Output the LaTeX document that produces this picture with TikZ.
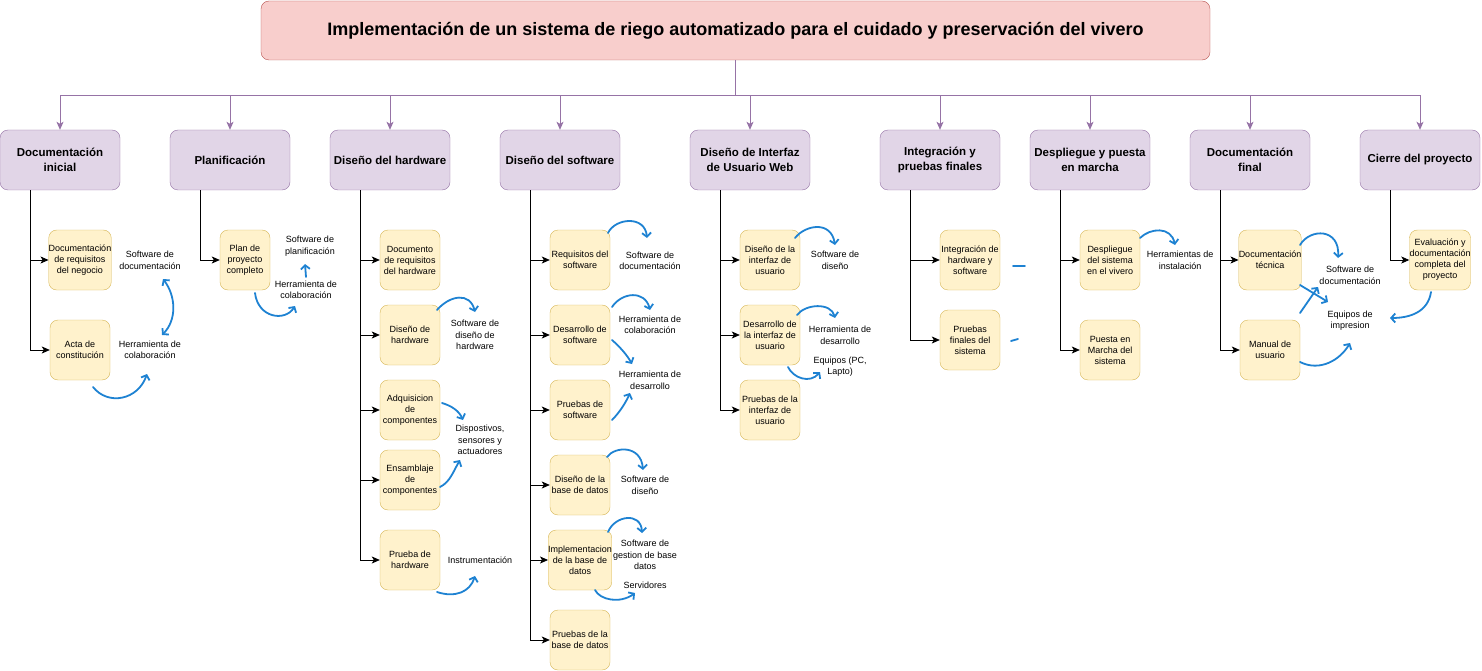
\documentclass[tikz,border=0pt]{standalone}
\usepackage{fontspec}
\setmainfont{Liberation Sans}
\usetikzlibrary{arrows.meta}
\definecolor{pfill}{HTML}{E1D5E7}
\definecolor{pstroke}{HTML}{9673A6}
\definecolor{yfill}{HTML}{FFF2CC}
\definecolor{ystroke}{HTML}{D6B656}
\definecolor{rfill}{HTML}{F8CECC}
\definecolor{rstroke}{HTML}{B85450}
\definecolor{skblue}{HTML}{1E82D2}
\begin{document}
\begin{tikzpicture}[x=1pt,y=-1pt,
  titlebox/.style={draw=rstroke, fill=rfill, rounded corners=8pt, minimum width=949pt, minimum height=59pt, inner sep=0pt, font=\fontsize{18}{21}\selectfont\bfseries},
  topbox/.style={draw=pstroke, fill=pfill, rounded corners=8pt, minimum width=120pt, minimum height=60pt, inner sep=0pt, align=center, font=\fontsize{11.5}{14.5}\selectfont\bfseries},
  childbox/.style={draw=ystroke, fill=yfill, rounded corners=8pt, minimum width=60pt, minimum height=60pt, inner sep=0pt, align=center, font=\fontsize{9}{11}\selectfont},
  lbl/.style={align=center, inner sep=0pt, font=\fontsize{9}{11.5}\selectfont},
  pur/.style={draw=pstroke, line width=0.9pt, -{Stealth[length=8pt,width=7pt,inset=2pt]}},
  blk/.style={draw=black, line width=0.8pt, -{Stealth[length=8pt,width=7pt,inset=2pt]}},
  sk/.style={draw=skblue, line width=1.8pt, line cap=round, -{Straight Barb[length=4pt,width=9pt]}},
  skd/.style={draw=skblue, line width=1.8pt, line cap=round, {Straight Barb[length=4pt,width=9pt]}-{Straight Barb[length=4pt,width=9pt]}},
  skn/.style={draw=skblue, line width=1.8pt, line cap=round}
]
\useasboundingbox (0,0) rectangle (1482,671);

% title
\node[titlebox] (title) at (735.5,30.5) {Implementación de un sistema de riego automatizado para el cuidado y preservación del vivero};

% top-level boxes
\node[topbox] (t1) at (60,160) {Documentación\\inicial};
\node[topbox] (t2) at (230,160) {Planificación};
\node[topbox] (t3) at (390,160) {Diseño del hardware};
\node[topbox] (t4) at (560,160) {Diseño del software};
\node[topbox] (t5) at (750,160) {Diseño de Interfaz\\de Usuario Web};
\node[topbox] (t6) at (940,160) {Integración y\\pruebas finales};
\node[topbox] (t7) at (1090,160) {Despliegue y puesta\\en marcha};
\node[topbox] (t8) at (1250,160) {Documentación\\final};
\node[topbox] (t9) at (1420,160) {Cierre del proyecto};

\foreach \t in {t1,t2,t3,t4,t5,t6,t7,t8,t9}{
  \draw[pur] (title.south) -- ++(0,35) -| (\t.north);
}

% column 1
\node[childbox] (c1a) at (80,260) {Documentación\\de requisitos\\del negocio};
\node[childbox] (c1b) at (80,350) {Acta de\\constitución};
% column 2
\node[childbox, minimum width=50pt] (c2a) at (245,260) {Plan de\\proyecto\\completo};
% column 3
\node[childbox] (c3a) at (410,260) {Documento\\de requisitos\\del hardware};
\node[childbox] (c3b) at (410,335) {Diseño de\\hardware};
\node[childbox] (c3c) at (410,410) {Adquisicion\\de\\componentes};
\node[childbox] (c3d) at (410,480) {Ensamblaje\\de\\componentes};
\node[childbox] (c3e) at (410,560) {Prueba de\\hardware};
% column 4
\node[childbox] (c4a) at (580,260) {Requisitos del\\software};
\node[childbox] (c4b) at (580,335) {Desarrollo de\\software};
\node[childbox] (c4c) at (580,410) {Pruebas de\\software};
\node[childbox] (c4d) at (580,485) {Diseño de la\\base de datos};
\node[childbox] (c4e) at (580,560) {Implementacion\\de la base de\\datos};
\node[childbox] (c4f) at (580,640) {Pruebas de la\\base de datos};
% column 5
\node[childbox] (c5a) at (770,260) {Diseño de la\\interfaz de\\usuario};
\node[childbox] (c5b) at (770,335) {Desarrollo de\\la interfaz de\\usuario};
\node[childbox] (c5c) at (770,410) {Pruebas de la\\interfaz de\\usuario};
% column 6
\node[childbox] (c6a) at (970,260) {Integración de\\hardware y\\software};
\node[childbox] (c6b) at (970,340) {Pruebas\\finales del\\sistema};
% column 7
\node[childbox] (c7a) at (1110,260) {Despliegue\\del sistema\\en el vivero};
\node[childbox] (c7b) at (1110,350) {Puesta en\\Marcha del\\sistema};
% column 8
\node[childbox] (c8a) at (1270,260) {Documentación\\técnica};
\node[childbox] (c8b) at (1270,350) {Manual de\\usuario};
% column 9
\node[childbox] (c9a) at (1440,260) {Evaluación y\\documentación\\completa del\\proyecto};

% tree connectors
\foreach \p/\c in {t1/c1a,t1/c1b,t2/c2a,t3/c3a,t3/c3b,t3/c3c,t3/c3d,t3/c3e,
  t4/c4a,t4/c4b,t4/c4c,t4/c4d,t4/c4e,t4/c4f,t5/c5a,t5/c5b,t5/c5c,
  t6/c6a,t6/c6b,t7/c7a,t7/c7b,t8/c8a,t8/c8b,t9/c9a}{
  \draw[blk] ([xshift=-30pt]\p.south) |- (\c.west);
}

% labels
\node[lbl] (l1a) at (150,260.5) {Software de\\documentación};
\node[lbl] (l1b) at (150,350) {Herramienta de\\colaboración};
\node[lbl] (l2a) at (310,246) {Software de\\planificación};
\node[lbl] (l2b) at (306,290) {Herramienta de\\colaboración};
\node[lbl] (l3b) at (475,335) {Software de\\diseño de\\hardware};
\node[lbl] (l3c) at (480,440) {Dispostivos,\\sensores y\\actuadores};
\node[lbl] (l3e) at (480,560) {Instrumentación};
\node[lbl] (l4a) at (650,261) {Software de\\documentación};
\node[lbl] (l4b) at (650,325) {Herramienta de\\colaboración};
\node[lbl] (l4c) at (650,380.5) {Herramienta de\\desarrollo};
\node[lbl] (l4d) at (645,485.5) {Software de\\diseño};
\node[lbl] (l4e) at (645,555) {Software de\\gestion de base\\datos};
\node[lbl] (l4g) at (645,585) {Servidores};
\node[lbl] (l5a) at (835,260.5) {Software de\\diseño};
\node[lbl] (l5b) at (840,335.5) {Herramienta de\\desarrollo};
\node[lbl] (l5c) at (840,366.5) {Equipos (PC,\\Lapto)};
\node[lbl] (l7a) at (1180,260.5) {Herramientas de\\instalación};
\node[lbl] (l8a) at (1350,275.5) {Software de\\documentación};
\node[lbl] (l8b) at (1350,320.5) {Equipos de\\impresion};

% free ends of the sketch arrows
\coordinate (a1s) at (163,279); \coordinate (a1e) at (162,335);
\coordinate (a2s) at (93,387);  \coordinate (a2e) at (147,374);
\coordinate (b1s) at (306,277); \coordinate (b1e) at (305,264);
\coordinate (b2s) at (255,293); \coordinate (b2e) at (295,306);
\coordinate (c1s) at (437,310); \coordinate (c1e) at (475,312);
\coordinate (c2s) at (442,403); \coordinate (c2e) at (463,420);
\coordinate (c3s) at (440,487); \coordinate (c3e) at (460,460);
\coordinate (c4s) at (437,592); \coordinate (c4e) at (475,576);
\coordinate (d1s) at (608,233); \coordinate (d1e) at (647,238);
\coordinate (d2s) at (612,307); \coordinate (d2e) at (650,310);
\coordinate (d3s) at (612,340); \coordinate (d3e) at (632,364);
\coordinate (d4s) at (612,420); \coordinate (d4e) at (630,393);
\coordinate (d5s) at (607,457); \coordinate (d5e) at (643,470);
\coordinate (d6s) at (608,532); \coordinate (d6e) at (642,533);
\coordinate (d7s) at (595,590); \coordinate (d7e) at (635,593);
\coordinate (e1s) at (795,238); \coordinate (e1e) at (835,245);
\coordinate (e2s) at (797,315); \coordinate (e2e) at (835,318);
\coordinate (e3s) at (788,367); \coordinate (e3e) at (820,372);
\coordinate (f1s) at (1013,266); \coordinate (f1e) at (1025,266);
\coordinate (f2s) at (1011,341); \coordinate (f2e) at (1018,339);
\coordinate (g1s) at (1140,238); \coordinate (g1e) at (1175,245);
\coordinate (h1s) at (1300,245); \coordinate (h1e) at (1338,258);
\coordinate (h2s) at (1300,285); \coordinate (h2e) at (1328,302);
\coordinate (h3s) at (1300,313); \coordinate (h3e) at (1318,287);
\coordinate (h4s) at (1300,362); \coordinate (h4e) at (1350,343);
\coordinate (h5s) at (1431,292); \coordinate (h5e) at (1390,318);

% sketch arrows
\draw[skd] (a1s) .. controls (176,296) and (177,320) .. (a1e);
\draw[sk] (a2s) .. controls (108,406) and (138,400) .. (a2e);
\draw[sk] (b1s) -- (b1e);
\draw[sk] (b2s) .. controls (258,318) and (285,322) .. (b2e);
\draw[sk] (c1s) .. controls (450,295) and (470,292) .. (c1e);
\draw[sk] (c2s) .. controls (452,406) and (459,411) .. (c2e);
\draw[sk] (c3s) .. controls (450,482) and (453,472) .. (c3e);
\draw[sk] (c4s) .. controls (455,598) and (470,592) .. (c4e);
\draw[sk] (d1s) .. controls (615,218) and (645,215) .. (d1e);
\draw[sk] (d2s) .. controls (622,292) and (645,290) .. (d2e);
\draw[sk] (d3s) .. controls (620,347) and (627,355) .. (d3e);
\draw[sk] (d4s) .. controls (620,412) and (626,402) .. (d4e);
\draw[sk] (d5s) .. controls (615,446) and (641,445) .. (d5e);
\draw[sk] (d6s) .. controls (615,515) and (641,512) .. (d6e);
\draw[sk] (d7s) .. controls (600,600) and (620,604) .. (d7e);
\draw[sk] (e1s) .. controls (805,225) and (831,220) .. (e1e);
\draw[sk] (e2s) .. controls (805,304) and (831,302) .. (e2e);
\draw[sk] (e3s) .. controls (793,378) and (810,384) .. (e3e);
\draw[skn] (f1s) -- (f1e);
\draw[skn] (f2s) -- (f2e);
\draw[sk] (g1s) .. controls (1150,228) and (1171,226) .. (g1e);
\draw[sk] (h1s) .. controls (1310,228) and (1340,228) .. (h1e);
\draw[sk] (h2s) -- (h2e);
\draw[sk] (h3s) -- (h3e);
\draw[sk] (h4s) .. controls (1320,372) and (1340,360) .. (h4e);
\draw[sk] (h5s) .. controls (1428,312) and (1410,318) .. (h5e);
\end{tikzpicture}
\end{document}
